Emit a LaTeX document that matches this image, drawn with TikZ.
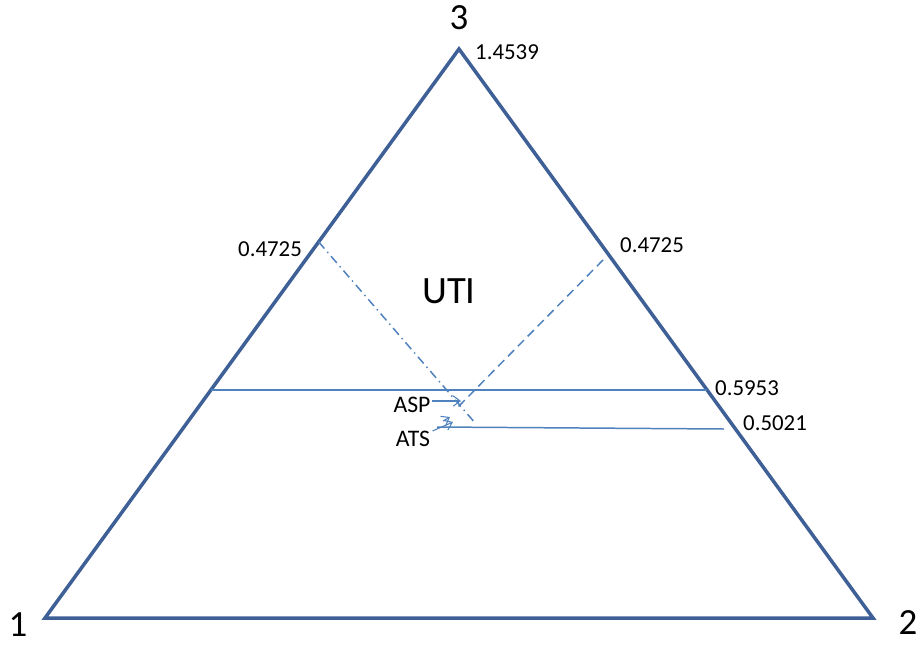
\documentclass[tikz,border=0pt]{standalone}
\usepackage{fontspec}
\setmainfont{Carlito}
\usetikzlibrary{arrows.meta, calc}
\definecolor{edgeblue}{RGB}{62,96,150}
\definecolor{lineblue}{RGB}{79,129,189}
\tikzset{
  side/.style={draw=edgeblue, line width=2pt, line join=miter},
  level/.style={draw=lineblue, line width=0.85pt},
  val/.style={font=\fontsize{13}{15}\selectfont, inner sep=0pt},
  corner/.style={font=\fontsize{21}{25}\selectfont, inner sep=0pt},
  tag/.style={font=\fontsize{13.5}{15}\selectfont, inner sep=0pt},
  pointer/.style={draw=lineblue, line width=0.6pt, -{Straight Barb[length=4pt, width=6pt]}},
}

\begin{document}
\begin{tikzpicture}[x=0.2mm, y=-0.2mm]
    \useasboundingbox (0,0) rectangle (920,647);
    % corners of the triangle
    \coordinate (v1) at (45,618);
    \coordinate (v2) at (873,618);
    \coordinate (v3) at (459,49);
    \draw[side] (v1) -- (v2) -- (v3) -- cycle;
    \node[corner] (n1) at (18,625) {1};
    \node[corner] (n2) at (908,623) {2};
    \node[corner] (n3) at (459,18) {3};
    \node[val] (top) at (507,52) {1.4539};
    % inner lines
    \coordinate (aspL) at ($(v1)!0.4007!(v3)$);
    \coordinate (aspR) at ($(v2)!0.4007!(v3)$);
    \draw[level] (aspL) -- (aspR);
    \coordinate (atsL) at (437,427);
    \coordinate (atsR) at (724,429);
    \draw[level] (atsL) -- (atsR);
    \coordinate (ddA) at ($(v1)!0.661!(v3)$);
    \coordinate (ddB) at (476,424);
    \draw[level, dash pattern=on 5pt off 2.5pt on 0.8pt off 2.5pt] (ddA) -- (ddB);
    \coordinate (dsA) at (603,260);
    \coordinate (dsB) at (458,407);
    \draw[level, dash pattern=on 5pt off 3pt] (dsA) -- (dsB);
    % values
    \node[val] (l1) at (270,249) {0.4725};
    \node[val] (l2) at (652,245) {0.4725};
    \node[val] (l3) at (747,388) {0.5953};
    \node[val] (l4) at (775,423) {0.5021};
    \node[font=\fontsize{22}{26}\selectfont, inner sep=0pt] (uti) at (449,291) {UTI};
    % pointers
    \node[tag] (asp) at (412,405) {ASP};
    \node[tag] (ats) at (413,439) {ATS};
    \coordinate (aspTip) at (461,401);
    \coordinate (atsTip) at (453,422);
    \coordinate (atsTip2) at (450,417);
    \draw[pointer] (asp.east) ++(1,-4) -- (aspTip);
    \draw[pointer] (ats.east) ++(2,-8) -- (atsTip);
    \draw[pointer] (443,421) -- (atsTip2);
\end{tikzpicture}
\end{document}
